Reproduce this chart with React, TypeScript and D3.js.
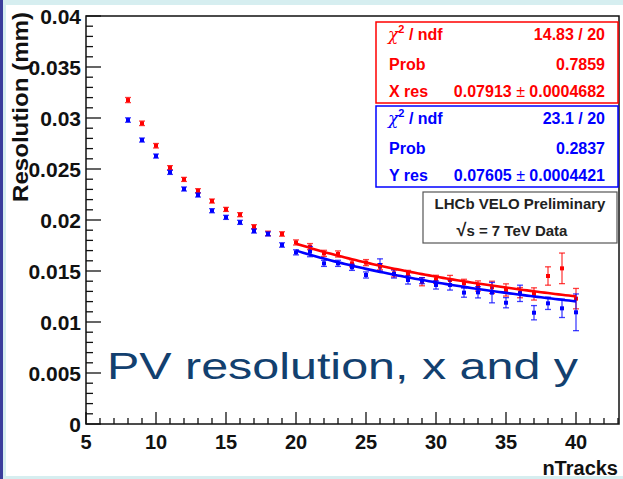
import React from 'react';
import * as d3 from 'd3';

const nTracks = [8, 9, 10, 11, 12, 13, 14, 15, 16, 17, 18, 19, 20, 21, 22, 23, 24, 25, 26, 27, 28, 29, 30, 31, 32, 33, 34, 35, 36, 37, 38, 39, 40];
const xRes = [0.03176, 0.02948, 0.02728, 0.02513, 0.02398, 0.02287, 0.02186, 0.02104, 0.02052, 0.01934, 0.01869, 0.01863, 0.0178,
  0.01739, 0.01673, 0.01667, 0.01575, 0.01582, 0.01542, 0.01477, 0.01471, 0.01395, 0.01418, 0.01412, 0.01379, 0.01353, 0.0134,
  0.01314, 0.01288, 0.01275, 0.01451, 0.01526, 0.01229];
const xErr = [0.00025, 0.00022, 0.00022, 0.0002, 0.0002, 0.0002, 0.0002, 0.0002, 0.0002, 0.0002, 0.00022, 0.00022, 0.00025,
  0.0003, 0.0003, 0.0003, 0.00035, 0.0003, 0.0003, 0.00035, 0.00035, 0.0004, 0.0004, 0.00045, 0.0004, 0.0005, 0.0006,
  0.0006, 0.0005, 0.0006, 0.0009, 0.0015, 0.001];
const yRes = [0.0298, 0.02784, 0.02627, 0.02467, 0.02304, 0.02245, 0.02091, 0.02026, 0.01977, 0.01892, 0.01863, 0.01755, 0.01683,
  0.0169, 0.01575, 0.01575, 0.01536, 0.01461, 0.01559, 0.01471, 0.01412, 0.01405, 0.01363, 0.01363, 0.01288, 0.01291, 0.01288,
  0.01189, 0.01281, 0.01091, 0.01183, 0.01134, 0.01095];
const yErr = [0.00022, 0.0002, 0.0002, 0.0002, 0.0002, 0.0002, 0.0002, 0.0002, 0.0002, 0.0002, 0.0002, 0.00022, 0.00025,
  0.0005, 0.0003, 0.0003, 0.0003, 0.0003, 0.0006, 0.0004, 0.0004, 0.0003, 0.0004, 0.0005, 0.00045, 0.00055, 0.001,
  0.0005, 0.0008, 0.0007, 0.0006, 0.0009, 0.0018];

const xTicks = [5, 10, 15, 20, 25, 30, 35, 40];
const yTicks = [0, 0.005, 0.01, 0.015, 0.02, 0.025, 0.03, 0.035, 0.04];
const yTickLabels = ['0', '0.005', '0.01', '0.015', '0.02', '0.025', '0.03', '0.035', '0.04'];
const fitRange = [20, 40];
const xFitPar = 0.07913;
const yFitPar = 0.07605;

const redStats = [['14.83 / 20'], ['0.7859'], ['0.07913', '0.0004682']];
const blueStats = [['23.1 / 20'], ['0.2837'], ['0.07605', '0.0004421']];

const W = 623;
const H = 479;
const FONT = '"Liberation Sans", Arial, Helvetica, sans-serif';

export default function App() {
  const x = d3.scaleLinear().domain([5, 43]).range([86, 618]);
  const y = d3.scaleLinear().domain([0, 0.04]).range([424, 16]);
  const x0 = x(5), x1 = x(43), yb = y(0), yt = y(0.04);

  const xMinor = d3.range(5, 43.001, 1);
  const yMinor = d3.range(0, 0.04001, 0.001);

  const fitXs = d3.range(fitRange[0], fitRange[1] + 0.001, 0.25);
  const redPath = d3.line<number>().x((d) => x(d)).y((d) => y(xFitPar / Math.sqrt(d)))(fitXs) as string;
  const bluePath = d3.line<number>().x((d) => x(d)).y((d) => y(yFitPar / Math.sqrt(d)))(fitXs) as string;

  const drawSeries = (vals: number[], errs: number[], color: string, key: string) =>
    nTracks.map((n, i) => {
      const cx = x(n);
      const cy = y(vals[i]);
      const lo = y(vals[i] - errs[i]);
      const hi = y(vals[i] + errs[i]);
      return (
        <g key={key + n}>
          <g stroke={color} strokeWidth={1.3} strokeOpacity={0.75}>
            <line x1={cx} x2={cx} y1={lo} y2={hi} />
            <line x1={cx - 3} x2={cx + 3} y1={lo} y2={lo} />
            <line x1={cx - 3} x2={cx + 3} y1={hi} y2={hi} />
          </g>
          <rect x={cx - 2} y={cy - 2} width={4} height={4} fill={color} />
        </g>
      );
    });

  const statBox = (top: number, color: string, resLabel: string, stats: string[][]) => {
    const left = 376, right = 618, h = 81;
    const rows = [top + 18, top + 48, top + 75];
    return (
      <g fontFamily={FONT} fontWeight="bold" fontSize={16} fill={color}>
        <rect x={left} y={top} width={right - left} height={h} fill="white" stroke={color} strokeWidth={1.5} />
        <text x={388} y={rows[0]}>
          <tspan fontWeight="normal" fontStyle="italic" fontFamily='"DejaVu Serif", serif' fontSize={17}>χ</tspan>
          <tspan fontSize={11} dy={-7}>2</tspan>
          <tspan dy={7}> / ndf</tspan>
        </text>
        <text x={389} y={rows[1]}>Prob</text>
        <text x={389} y={rows[2]}>{resLabel}</text>
        <text x={605} y={rows[0]} textAnchor="end">{stats[0][0]}</text>
        <text x={605} y={rows[1]} textAnchor="end">{stats[1][0]}</text>
        <text x={605} y={rows[2]} textAnchor="end">
          {stats[2][0]}
          <tspan fontWeight="normal"> ± </tspan>
          {stats[2][1]}
        </text>
      </g>
    );
  };

  return (
    <svg width={W} height={H} viewBox={`0 0 ${W} ${H}`}
      style={{ position: 'absolute', left: 0, top: 0, display: 'block' }}>
      <rect x={0} y={0} width={W} height={H} fill="white" />
      <rect x={0} y={0} width={W} height={5} fill="#d6eef0" />
      <rect x={0} y={476} width={W} height={3} fill="#d6eef0" />
      <rect x={3} y={0} width={3} height={H} fill="#d6eef0" />
      <rect x={0} y={0} width={3} height={H} fill="#3b3d9c" />

      <rect x={x0} y={yt} width={x1 - x0 + 1} height={yb - yt} fill="none" stroke="#111" strokeWidth={1.5} />

      <g stroke="#111" strokeWidth={1.3}>
        {yMinor.map((v, i) => (
          <line key={'ym' + i} x1={x0} x2={x0 + (i % 5 === 0 ? 15 : 7)} y1={y(v)} y2={y(v)} />
        ))}
        {xMinor.map((v, i) => (
          <line key={'xm' + i} x1={x(v)} x2={x(v)} y1={yb} y2={yb - (i % 5 === 0 ? 12 : 6)} />
        ))}
      </g>

      <g fontFamily={FONT} fontWeight="bold" fontSize={20} fill="#111">
        {yTicks.map((v, i) => (
          <text key={'yl' + i} x={81} y={y(v) + 7.5} textAnchor="end" fontSize={21}>{yTickLabels[i]}</text>
        ))}
        {xTicks.map((v) => (
          <text key={'xl' + v} x={x(v)} y={449} textAnchor="middle">{v}</text>
        ))}
        <text x={618} y={475} textAnchor="end">nTracks</text>
        <text transform="translate(28,12) rotate(-90)" textAnchor="end" fontSize={22}
          textLength={190} lengthAdjust="spacingAndGlyphs">Resolution (mm)</text>
      </g>

      {drawSeries(xRes, xErr, '#ff0000', 'r')}
      {drawSeries(yRes, yErr, '#0000ff', 'b')}

      <path d={redPath} fill="none" stroke="#ff0000" strokeWidth={2.6} />
      <path d={bluePath} fill="none" stroke="#0000ff" strokeWidth={2.6} />

      {statBox(22, '#ff0000', 'X res', redStats)}
      {statBox(106, '#0000ff', 'Y res', blueStats)}

      <g fontFamily={FONT} fontWeight="bold" fontSize={15} fill="#222">
        <rect x={423} y={192} width={194} height={51} fill="white" stroke="#555" strokeWidth={1.2} />
        <text x={520} y={209} textAnchor="middle">LHCb VELO Preliminary</text>
        <text x={512} y={236} textAnchor="middle"><tspan fontSize={18}>√</tspan>s = 7 TeV Data</text>
      </g>

      <text x={107} y={379} fontFamily={FONT} fontSize={37} fill="#12406f"
        textLength={471} lengthAdjust="spacingAndGlyphs">PV resolution, x and y</text>
    </svg>
  );
}
